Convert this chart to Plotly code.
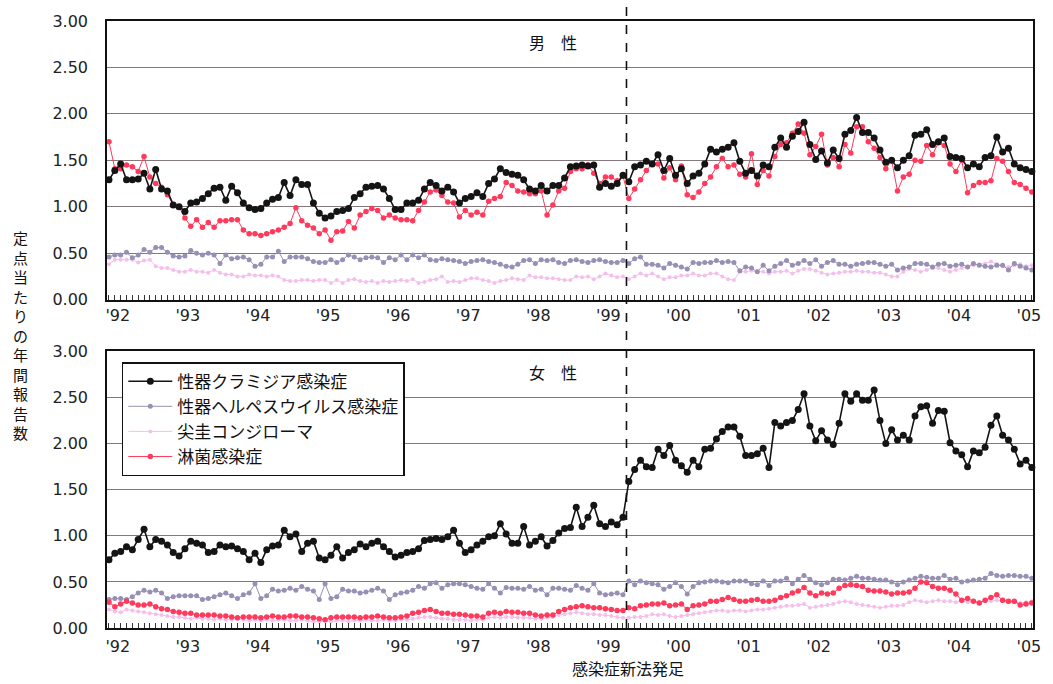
import plotly.graph_objects as go
from plotly.subplots import make_subplots

# Monthly values (reports per sentinel site, annualised), Jan 1992 - Apr 2005
year_labels = ["'92", "'93", "'94", "'95", "'96", "'97", "'98", "'99",
               "'00", "'01", "'02", "'03", "'04", "'05"]

series_names = ["性器クラミジア感染症", "性器ヘルペスウイルス感染症",
                "尖圭コンジローマ", "淋菌感染症"]

# ---- male ----
male_chlamydia = [
    1.29, 1.39, 1.46, 1.29, 1.29, 1.30, 1.36, 1.19, 1.40, 1.19, 1.17, 1.02,
    1.00, 0.95, 1.04, 1.05, 1.09, 1.14, 1.20, 1.21, 1.07, 1.22, 1.15, 1.04,
    0.99, 0.97, 0.98, 1.04, 1.08, 1.10, 1.26, 1.12, 1.29, 1.24, 1.24, 1.04,
    0.93, 0.88, 0.90, 0.95, 0.96, 0.98, 1.10, 1.14, 1.21, 1.22, 1.23, 1.19,
    1.09, 0.97, 0.97, 1.04, 1.04, 1.07, 1.19, 1.26, 1.23, 1.17, 1.21, 1.16,
    1.04, 1.09, 1.11, 1.15, 1.11, 1.25, 1.30, 1.41, 1.37, 1.35, 1.34, 1.29,
    1.19, 1.17, 1.23, 1.17, 1.23, 1.23, 1.31, 1.43, 1.44, 1.45, 1.44, 1.45,
    1.21, 1.25, 1.22, 1.25, 1.34, 1.27, 1.43, 1.45, 1.49, 1.46, 1.56, 1.39,
    1.52, 1.34, 1.41, 1.25, 1.33, 1.36, 1.46, 1.62, 1.59, 1.62, 1.64, 1.69,
    1.49, 1.36, 1.39, 1.33, 1.45, 1.43, 1.64, 1.74, 1.64, 1.76, 1.81, 1.91,
    1.67, 1.51, 1.60, 1.47, 1.61, 1.52, 1.78, 1.82, 1.96, 1.80, 1.80, 1.74,
    1.61, 1.48, 1.50, 1.42, 1.50, 1.55, 1.77, 1.78, 1.83, 1.67, 1.70, 1.74,
    1.54, 1.53, 1.52, 1.42, 1.46, 1.43, 1.53, 1.55, 1.75, 1.59, 1.63, 1.46,
    1.42, 1.40, 1.38, 1.38,
]
male_herpes = [
    0.46, 0.48, 0.48, 0.51, 0.45, 0.48, 0.54, 0.51, 0.56, 0.56, 0.51, 0.47,
    0.46, 0.47, 0.53, 0.50, 0.48, 0.50, 0.48, 0.39, 0.48, 0.44, 0.45, 0.46,
    0.43, 0.36, 0.38, 0.46, 0.46, 0.52, 0.41, 0.46, 0.46, 0.46, 0.44, 0.41,
    0.40, 0.40, 0.43, 0.40, 0.43, 0.48, 0.46, 0.43, 0.45, 0.46, 0.45, 0.40,
    0.45, 0.43, 0.48, 0.43, 0.48, 0.45, 0.48, 0.43, 0.42, 0.44, 0.43, 0.42,
    0.41, 0.39, 0.41, 0.42, 0.43, 0.41, 0.40, 0.38, 0.36, 0.35, 0.38, 0.42,
    0.43, 0.39, 0.43, 0.42, 0.43, 0.40, 0.39, 0.42, 0.43, 0.41, 0.40, 0.42,
    0.43, 0.41, 0.40, 0.40, 0.42, 0.39, 0.44, 0.46, 0.38, 0.38, 0.37, 0.34,
    0.39, 0.37, 0.35, 0.33, 0.40, 0.39, 0.40, 0.40, 0.42, 0.40, 0.41, 0.40,
    0.31, 0.35, 0.34, 0.30, 0.37, 0.31, 0.36, 0.39, 0.42, 0.37, 0.39, 0.42,
    0.39, 0.43, 0.36, 0.40, 0.42, 0.38, 0.38, 0.36, 0.38, 0.39, 0.40, 0.40,
    0.38, 0.36, 0.38, 0.32, 0.34, 0.35, 0.39, 0.39, 0.38, 0.35, 0.38, 0.39,
    0.36, 0.37, 0.38, 0.35, 0.39, 0.37, 0.36, 0.35, 0.37, 0.37, 0.32, 0.39,
    0.36, 0.34, 0.32, 0.33,
]
male_condyloma = [
    0.38, 0.43, 0.43, 0.43, 0.43, 0.40, 0.42, 0.43, 0.36, 0.34, 0.34, 0.32,
    0.30, 0.30, 0.32, 0.30, 0.30, 0.29, 0.32, 0.29, 0.27, 0.27, 0.25, 0.25,
    0.27, 0.26, 0.26, 0.25, 0.26, 0.25, 0.21, 0.20, 0.20, 0.21, 0.21, 0.20,
    0.21, 0.21, 0.18, 0.21, 0.18, 0.21, 0.22, 0.20, 0.19, 0.20, 0.18, 0.20,
    0.19, 0.20, 0.21, 0.20, 0.22, 0.18, 0.19, 0.21, 0.22, 0.25, 0.19, 0.20,
    0.19, 0.21, 0.23, 0.23, 0.21, 0.20, 0.18, 0.20, 0.21, 0.23, 0.22, 0.21,
    0.26, 0.24, 0.24, 0.23, 0.23, 0.22, 0.21, 0.21, 0.25, 0.24, 0.25, 0.22,
    0.25, 0.28, 0.26, 0.24, 0.25, 0.22, 0.25, 0.28, 0.26, 0.28, 0.25, 0.22,
    0.24, 0.24, 0.26, 0.26, 0.28, 0.26, 0.26, 0.28, 0.28, 0.25, 0.22, 0.21,
    0.30, 0.30, 0.31, 0.30, 0.30, 0.28, 0.30, 0.30, 0.31, 0.28, 0.31, 0.33,
    0.33, 0.31, 0.29, 0.27, 0.28, 0.29, 0.30, 0.30, 0.31, 0.30, 0.30, 0.29,
    0.29, 0.27, 0.25, 0.25, 0.30, 0.33, 0.32, 0.30, 0.32, 0.34, 0.34, 0.32,
    0.30, 0.32, 0.34, 0.35, 0.37, 0.38, 0.39, 0.41, 0.38, 0.36, 0.35, 0.37,
    0.38, 0.36, 0.37, 0.35,
]
male_gonorrhea = [
    1.70, 1.41, 1.41, 1.45, 1.43, 1.38, 1.54, 1.32, 1.25, 1.21, 1.13, 1.02,
    1.00, 0.88, 0.79, 0.86, 0.78, 0.83, 0.78, 0.85, 0.85, 0.86, 0.86, 0.75,
    0.71, 0.71, 0.69, 0.71, 0.73, 0.75, 0.78, 0.82, 0.99, 0.85, 0.80, 0.77,
    0.71, 0.75, 0.64, 0.73, 0.74, 0.84, 0.77, 0.91, 0.95, 0.98, 0.96, 0.88,
    0.91, 0.88, 0.86, 0.86, 0.85, 0.96, 1.05, 1.16, 1.18, 1.12, 1.05, 1.04,
    0.89, 0.96, 0.91, 0.94, 0.91, 1.06, 1.09, 1.11, 1.26, 1.23, 1.17, 1.16,
    1.14, 1.14, 1.17, 0.91, 1.02, 1.17, 1.20, 1.38, 1.41, 1.41, 1.45, 1.36,
    1.25, 1.32, 1.32, 1.28, 1.33, 1.09, 1.19, 1.29, 1.39, 1.46, 1.46, 1.31,
    1.42, 1.29, 1.44, 1.13, 1.10, 1.16, 1.25, 1.32, 1.43, 1.52, 1.43, 1.45,
    1.35, 1.32, 1.57, 1.24, 1.39, 1.33, 1.54, 1.67, 1.69, 1.79, 1.89, 1.79,
    1.56, 1.65, 1.78, 1.45, 1.53, 1.43, 1.67, 1.58, 1.86, 1.86, 1.70, 1.63,
    1.53, 1.41, 1.50, 1.17, 1.32, 1.35, 1.50, 1.49, 1.66, 1.56, 1.69, 1.66,
    1.46, 1.38, 1.50, 1.15, 1.23, 1.26, 1.26, 1.28, 1.52, 1.49, 1.38, 1.26,
    1.24, 1.20, 1.16, 1.13,
]

# ---- female ----
female_chlamydia = [
    0.74, 0.81, 0.83, 0.88, 0.85, 0.96, 1.07, 0.88, 0.96, 0.94, 0.90, 0.82,
    0.78, 0.86, 0.94, 0.92, 0.90, 0.82, 0.83, 0.90, 0.88, 0.89, 0.86, 0.83,
    0.74, 0.81, 0.71, 0.85, 0.89, 0.90, 1.06, 0.99, 1.02, 0.83, 0.92, 0.94,
    0.76, 0.74, 0.79, 0.88, 0.76, 0.82, 0.85, 0.91, 0.88, 0.92, 0.94, 0.88,
    0.83, 0.77, 0.79, 0.82, 0.83, 0.86, 0.95, 0.96, 0.97, 0.96, 0.99, 1.06,
    0.92, 0.82, 0.85, 0.90, 0.94, 0.99, 1.00, 1.13, 1.02, 0.92, 0.92, 1.10,
    0.90, 0.94, 0.99, 0.89, 0.95, 1.03, 1.08, 1.09, 1.31, 1.10, 1.20, 1.33,
    1.13, 1.10, 1.15, 1.12, 1.20, 1.59, 1.72, 1.82, 1.75, 1.74, 1.94, 1.87,
    1.98, 1.82, 1.76, 1.69, 1.82, 1.75, 1.94, 1.95, 2.05, 2.13, 2.18, 2.18,
    2.08, 1.87, 1.87, 1.89, 1.95, 1.74, 2.23, 2.19, 2.23, 2.25, 2.37, 2.54,
    2.19, 2.03, 2.14, 2.04, 1.99, 2.22, 2.54, 2.46, 2.54, 2.47, 2.47, 2.58,
    2.25, 2.00, 2.15, 2.04, 2.09, 2.04, 2.30, 2.40, 2.41, 2.22, 2.36, 2.35,
    2.01, 1.92, 1.88, 1.75, 1.92, 1.90, 1.96, 2.20, 2.30, 2.09, 2.04, 1.94,
    1.78, 1.82, 1.74, 1.73,
]
female_herpes = [
    0.31, 0.32, 0.32, 0.31, 0.34, 0.38, 0.41, 0.39, 0.41, 0.38, 0.32, 0.34,
    0.35, 0.35, 0.35, 0.35, 0.31, 0.32, 0.34, 0.36, 0.38, 0.35, 0.32, 0.36,
    0.38, 0.48, 0.32, 0.35, 0.42, 0.40, 0.41, 0.43, 0.41, 0.45, 0.42, 0.40,
    0.31, 0.48, 0.32, 0.34, 0.42, 0.40, 0.40, 0.38, 0.39, 0.41, 0.43, 0.40,
    0.31, 0.36, 0.38, 0.39, 0.41, 0.45, 0.43, 0.48, 0.49, 0.43, 0.47, 0.48,
    0.48, 0.47, 0.45, 0.43, 0.42, 0.48, 0.43, 0.38, 0.44, 0.43, 0.43, 0.42,
    0.45, 0.41, 0.42, 0.36, 0.43, 0.43, 0.42, 0.41, 0.46, 0.43, 0.41, 0.48,
    0.38, 0.36, 0.37, 0.38, 0.36, 0.51, 0.47, 0.51, 0.49, 0.48, 0.47, 0.42,
    0.45, 0.49, 0.45, 0.37, 0.45, 0.49, 0.50, 0.51, 0.51, 0.50, 0.49, 0.51,
    0.51, 0.51, 0.48, 0.47, 0.51, 0.46, 0.51, 0.51, 0.54, 0.48, 0.53, 0.57,
    0.53, 0.49, 0.47, 0.49, 0.53, 0.53, 0.52, 0.54, 0.56, 0.54, 0.54, 0.53,
    0.52, 0.52, 0.50, 0.47, 0.50, 0.52, 0.54, 0.56, 0.55, 0.54, 0.54, 0.57,
    0.53, 0.54, 0.50, 0.51, 0.52, 0.53, 0.54, 0.59, 0.57, 0.56, 0.57, 0.57,
    0.56, 0.56, 0.54, 0.53,
]
female_condyloma = [
    0.20, 0.18, 0.17, 0.20, 0.19, 0.18, 0.17, 0.16, 0.15, 0.14, 0.13, 0.12,
    0.12, 0.11, 0.10, 0.11, 0.10, 0.10, 0.09, 0.10, 0.09, 0.09, 0.10, 0.09,
    0.08, 0.09, 0.08, 0.09, 0.08, 0.09, 0.09, 0.08, 0.08, 0.09, 0.08, 0.07,
    0.07, 0.08, 0.07, 0.08, 0.08, 0.07, 0.08, 0.08, 0.09, 0.08, 0.08, 0.09,
    0.08, 0.08, 0.09, 0.09, 0.10, 0.11, 0.12, 0.12, 0.11, 0.10, 0.10, 0.09,
    0.09, 0.09, 0.08, 0.09, 0.09, 0.11, 0.12, 0.11, 0.12, 0.12, 0.11, 0.11,
    0.11, 0.10, 0.10, 0.11, 0.12, 0.14, 0.15, 0.16, 0.17, 0.16, 0.15, 0.15,
    0.14, 0.14, 0.13, 0.12, 0.11, 0.11, 0.12, 0.12, 0.13, 0.15, 0.14, 0.15,
    0.13, 0.12, 0.13, 0.14, 0.15, 0.16, 0.17, 0.18, 0.19, 0.19, 0.18, 0.19,
    0.19, 0.18, 0.19, 0.20, 0.20, 0.21, 0.22, 0.23, 0.24, 0.24, 0.25, 0.26,
    0.22, 0.23, 0.24, 0.25, 0.26, 0.28, 0.29, 0.28, 0.26, 0.25, 0.24, 0.23,
    0.22, 0.23, 0.24, 0.24, 0.25, 0.28, 0.30, 0.29, 0.28, 0.29, 0.30, 0.29,
    0.29, 0.28, 0.29, 0.28, 0.29, 0.28, 0.29, 0.29, 0.30, 0.29, 0.28, 0.28,
    0.27, 0.28, 0.29, 0.28,
]
female_gonorrhea = [
    0.28, 0.23, 0.26, 0.29, 0.27, 0.25, 0.25, 0.26, 0.23, 0.21, 0.20, 0.18,
    0.17, 0.16, 0.16, 0.14, 0.14, 0.14, 0.14, 0.13, 0.13, 0.12, 0.11, 0.12,
    0.12, 0.12, 0.11, 0.12, 0.13, 0.12, 0.12, 0.13, 0.13, 0.12, 0.12, 0.11,
    0.10, 0.09, 0.11, 0.12, 0.12, 0.12, 0.12, 0.11, 0.12, 0.12, 0.13, 0.12,
    0.11, 0.11, 0.12, 0.13, 0.16, 0.17, 0.19, 0.20, 0.18, 0.16, 0.16, 0.15,
    0.15, 0.14, 0.13, 0.13, 0.12, 0.16, 0.17, 0.16, 0.18, 0.17, 0.17, 0.16,
    0.16, 0.14, 0.13, 0.14, 0.14, 0.18, 0.20, 0.22, 0.23, 0.24, 0.23, 0.22,
    0.22, 0.21, 0.20, 0.19, 0.19, 0.22, 0.21, 0.24, 0.25, 0.26, 0.26, 0.27,
    0.24, 0.25, 0.26, 0.20, 0.24, 0.25, 0.26, 0.29, 0.29, 0.31, 0.33, 0.31,
    0.29, 0.29, 0.30, 0.31, 0.29, 0.29, 0.30, 0.33, 0.35, 0.38, 0.40, 0.44,
    0.38, 0.35, 0.38, 0.37, 0.38, 0.43, 0.46, 0.47, 0.46, 0.45, 0.41, 0.40,
    0.40, 0.39, 0.37, 0.38, 0.38, 0.39, 0.43, 0.50, 0.49, 0.45, 0.43, 0.43,
    0.41, 0.37, 0.30, 0.32, 0.29, 0.27, 0.30, 0.33, 0.36, 0.30, 0.29, 0.29,
    0.25, 0.26, 0.27, 0.28,
]

# month index of the new Infectious Diseases Control Law (April 1999)
law_month = 88.6

months = list(range(len(male_chlamydia)))
year_tick_pos = [12 * k + 1.5 for k in range(len(year_labels))]

JP = "Noto Sans CJK JP"
NUM = "DejaVu Sans"

styles = {
    "性器クラミジア感染症": dict(color="#141414", lw=1.6, ms=7),
    "性器ヘルペスウイルス感染症": dict(color="#978fb4", lw=1.0, ms=5),
    "尖圭コンジローマ": dict(color="#f5bfec", lw=1.0, ms=4),
    "淋菌感染症": dict(color="#ff3a5c", lw=1.0, ms=5.5),
}
legend_rank = {name: i + 1 for i, name in enumerate(series_names)}

panels = [
    (1, {"性器クラミジア感染症": male_chlamydia,
         "性器ヘルペスウイルス感染症": male_herpes,
         "尖圭コンジローマ": male_condyloma,
         "淋菌感染症": male_gonorrhea}),
    (2, {"性器クラミジア感染症": female_chlamydia,
         "性器ヘルペスウイルス感染症": female_herpes,
         "尖圭コンジローマ": female_condyloma,
         "淋菌感染症": female_gonorrhea}),
]

fig = make_subplots(rows=2, cols=1)

draw_order = ["尖圭コンジローマ", "性器ヘルペスウイルス感染症", "淋菌感染症", "性器クラミジア感染症"]
for row, data in panels:
    for name in draw_order:
        st = styles[name]
        fig.add_trace(
            go.Scatter(
                x=months, y=data[name], name=name, mode="lines+markers",
                line=dict(color=st["color"], width=st["lw"]),
                marker=dict(color=st["color"], size=st["ms"], line=dict(width=0)),
                showlegend=(row == 2), legendrank=legend_rank[name],
                cliponaxis=False,
            ),
            row=row, col=1,
        )

common_x = dict(
    range=[-0.34, 158.2], tickmode="array", tickvals=year_tick_pos, ticktext=year_labels,
    ticks="", showgrid=False, zeroline=False,
    showline=True, linecolor="#111111", linewidth=1.5, mirror=True,
    tickfont=dict(family=NUM, size=16, color="#222222"),
    minor=dict(tickmode="linear", tick0=0, dtick=1, ticks="inside", ticklen=5,
               tickcolor="#333333", tickwidth=1, showgrid=False),
)
common_y = dict(
    range=[0, 3], tickmode="array", tickvals=[0, 0.5, 1, 1.5, 2, 2.5, 3],
    ticktext=["0.00", "0.50", "1.00", "1.50", "2.00", "2.50", "3.00"],
    showgrid=True, gridcolor="#85787c", gridwidth=1, zeroline=False,
    showline=True, linecolor="#111111", linewidth=1.5, mirror=True,
    ticks="outside", ticklen=14, tickcolor="rgba(0,0,0,0)",
    tickfont=dict(family=NUM, size=16, color="#222222"),
)
fig.update_xaxes(**common_x)
fig.update_yaxes(**common_y)
fig.update_layout(
    yaxis=dict(domain=[0.541, 1.0]),
    yaxis2=dict(domain=[0.0, 0.4557]),
    xaxis2=dict(ticks="outside", ticklen=3, tickcolor="rgba(0,0,0,0)"),
)

# dashed marker of the new law, running through both panels
fig.add_shape(type="line", xref="x2", yref="paper", x0=law_month, x1=law_month,
              y0=0, y1=1.03, line=dict(color="#111111", width=1.6, dash="dash"))

annotations = [
    dict(text="男　性", x=0.482, y=0.966, xref="paper", yref="paper", showarrow=False,
         xanchor="center", yanchor="middle",
         font=dict(family=JP, size=16, color="#111111")),
    dict(text="女　性", x=0.482, y=0.421, xref="paper", yref="paper", showarrow=False,
         xanchor="center", yanchor="middle",
         font=dict(family=JP, size=16, color="#111111")),
    dict(text="感染症新法発足", x=0.563, y=-0.066, xref="paper", yref="paper",
         showarrow=False, xanchor="center", yanchor="middle",
         font=dict(family=JP, size=16, color="#111111")),
    dict(text="<br>".join("定点当たりの年間報告数"), x=-0.093, y=0.483,
         xref="paper", yref="paper", showarrow=False, xanchor="center", yanchor="middle",
         font=dict(family=JP, size=15, color="#111111")),
]
fig.update_layout(annotations=annotations)

fig.update_layout(
    width=1053, height=684,
    margin=dict(l=107, r=14, t=18, b=56),
    paper_bgcolor="white", plot_bgcolor="white",
    font=dict(family=NUM, color="#222222"),
    legend=dict(
        x=0.016, y=0.438, xanchor="left", yanchor="top",
        bgcolor="white", bordercolor="#111111", borderwidth=1.5,
        font=dict(family=JP, size=17, color="#111111"),
        tracegroupgap=0, itemwidth=44,
    ),
)

fig.write_html("out.html")
